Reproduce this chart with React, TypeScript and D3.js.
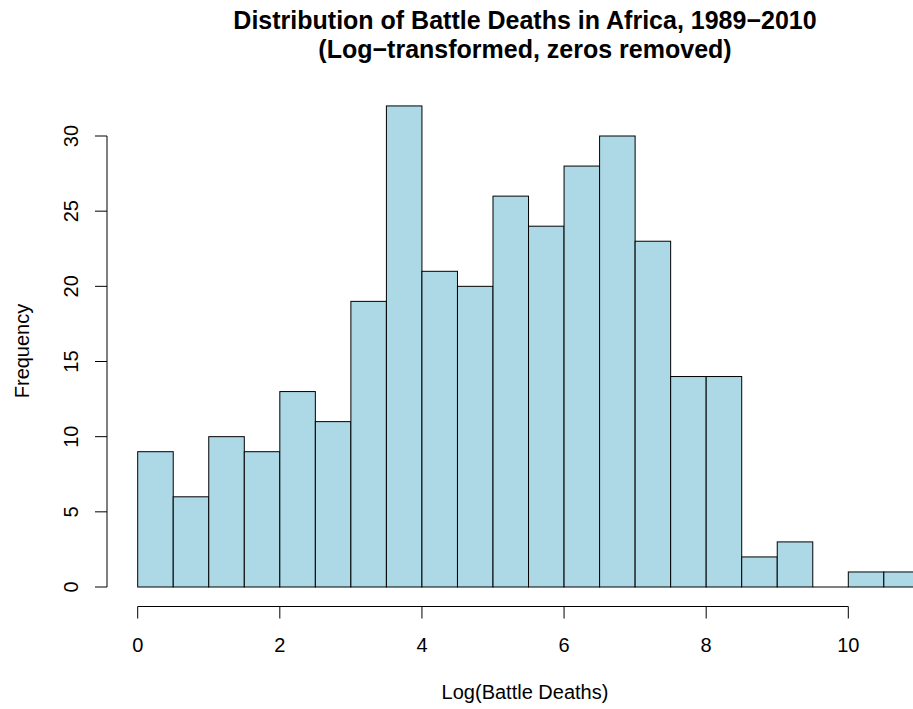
import React from 'react';
import * as d3 from 'd3';

// histogram bins (log battle deaths), width 0.5
const binStarts = [0, 0.5, 1, 1.5, 2, 2.5, 3, 3.5, 4, 4.5, 5, 5.5, 6, 6.5, 7, 7.5, 8, 8.5, 9, 9.5, 10, 10.5];
const counts = [9, 6, 10, 9, 13, 11, 19, 32, 21, 20, 26, 24, 28, 30, 23, 14, 14, 2, 3, 0, 1, 1];
const xTicks = [0, 2, 4, 6, 8, 10];
const yTicks = [0, 5, 10, 15, 20, 25, 30];
const binWidth = 0.5;

export default function App() {
  const width = 913;
  const height = 709;

  const x = d3.scaleLinear().domain([0, 10]).range([137.7, 848.3]);
  const y = d3.scaleLinear().domain([0, 30]).range([587, 136]);

  const axisY = 606.5;
  const axisX = 107;
  const font = 'Liberation Sans, Arial, Helvetica, sans-serif';

  return (
    <svg width={width} height={height} style={{ position: 'absolute', left: 0, top: 0 }}>
      <rect width={width} height={height} fill="white" />
      <text x={525} y={29} textAnchor="middle" fontFamily={font} fontWeight="bold" fontSize={25}>
        Distribution of Battle Deaths in Africa, 1989−2010
      </text>
      <text x={525} y={57.5} textAnchor="middle" fontFamily={font} fontWeight="bold" fontSize={25}>
        (Log−transformed, zeros removed)
      </text>

      {binStarts.map((b, i) =>
        counts[i] === 0 ? (
          // empty bin: R still draws its outline as a flat line
          <line key={i} x1={x(b)} x2={x(b + binWidth)} y1={y(0)} y2={y(0)} stroke="#000" />
        ) : (
          <rect
            key={i}
            x={x(b)}
            y={y(counts[i])}
            width={x(b + binWidth) - x(b)}
            height={y(0) - y(counts[i])}
            fill="#ADD8E6"
            stroke="#000"
            strokeWidth={1}
          />
        )
      )}

      {/* x axis */}
      <line x1={x(0)} x2={x(10)} y1={axisY} y2={axisY} stroke="#000" />
      {xTicks.map(t => (
        <g key={t}>
          <line x1={x(t)} x2={x(t)} y1={axisY} y2={axisY + 12} stroke="#000" />
          <text x={x(t)} y={652} textAnchor="middle" fontFamily={font} fontSize={20}>{t}</text>
        </g>
      ))}

      {/* y axis */}
      <line x1={axisX} x2={axisX} y1={y(0)} y2={y(30)} stroke="#000" />
      {yTicks.map(t => (
        <g key={t}>
          <line x1={axisX - 12} x2={axisX} y1={y(t)} y2={y(t)} stroke="#000" />
          <text
            transform={`translate(78,${y(t)}) rotate(-90)`}
            textAnchor="middle"
            fontFamily={font}
            fontSize={20}
          >{t}</text>
        </g>
      ))}

      <text x={525} y={699} textAnchor="middle" fontFamily={font} fontSize={20}>Log(Battle Deaths)</text>
      <text transform={`translate(28.5,351) rotate(-90)`} textAnchor="middle" fontFamily={font} fontSize={20}>
        Frequency
      </text>
    </svg>
  );
}
